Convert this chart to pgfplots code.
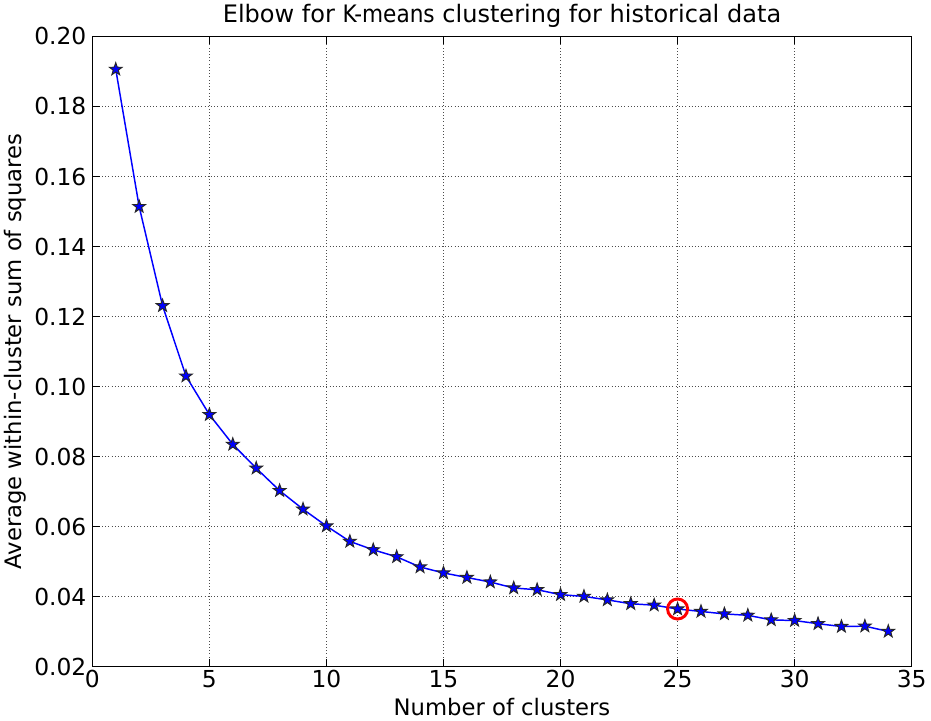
\documentclass[border=0pt]{standalone}
\usepackage{fontspec}
\setmainfont{DejaVu Sans}
\newfontfamily\cond{DejaVu Sans Condensed}
\usepackage{pgfplots}
\pgfplotsset{compat=1.18}
% filled five-pointed star like matplotlib's '*'
\pgfdeclareplotmark{fstar}{%
  \pgfpathmoveto{\pgfpointpolar{90}{\pgfplotmarksize}}%
  \pgfpathlineto{\pgfpointpolar{126}{0.4\pgfplotmarksize}}%
  \pgfpathlineto{\pgfpointpolar{162}{\pgfplotmarksize}}%
  \pgfpathlineto{\pgfpointpolar{198}{0.4\pgfplotmarksize}}%
  \pgfpathlineto{\pgfpointpolar{234}{\pgfplotmarksize}}%
  \pgfpathlineto{\pgfpointpolar{270}{0.4\pgfplotmarksize}}%
  \pgfpathlineto{\pgfpointpolar{306}{\pgfplotmarksize}}%
  \pgfpathlineto{\pgfpointpolar{342}{0.4\pgfplotmarksize}}%
  \pgfpathlineto{\pgfpointpolar{18}{\pgfplotmarksize}}%
  \pgfpathlineto{\pgfpointpolar{54}{0.4\pgfplotmarksize}}%
  \pgfpathclose
  \pgfusepathqfillstroke}
\begin{document}
\begin{tikzpicture}
\begin{axis}[
    width=613.5pt, height=472pt,
    scale only axis,
    xmin=0, xmax=35, ymin=0.02, ymax=0.20,
    xtick={0,5,...,35},
    ytick={0.02,0.04,...,0.20},
    yticklabel style={xshift=-1pt, /pgf/number format/.cd, fixed, fixed zerofill, precision=2},
    /pgf/number format/assume math mode=true,
    tick align=inside,
    tick style={black, line width=0.6pt},
    major tick length=6pt,
    grid=major,
    grid style={black!70, dotted, line width=0.7pt},
    axis line style={black, line width=0.9pt},
    every tick label/.append style={font=\fontsize{17.5}{20}\selectfont},
    xticklabel style={yshift=1pt},
    label style={font=\fontsize{17}{20}\selectfont},
    title style={font=\fontsize{18}{21}\selectfont, yshift=-3pt},
    title={Elbow for {\cond K-means} clustering for historical data},
    xlabel={Number of clusters},
    ylabel={Average within-cluster sum of squares},
    xlabel style={yshift=-1pt},
    ylabel style={yshift=-1pt},
]
\addplot[blue, line width=1.1pt, mark=fstar, mark size=5pt,
    mark options={line width=0.7pt, fill=blue, draw=black!85}] coordinates {
(1,0.1906) (2,0.1514) (3,0.1231) (4,0.1030) (5,0.0920) (6,0.0835) (7,0.0767)
(8,0.0703) (9,0.0650) (10,0.0602) (11,0.0558) (12,0.0534) (13,0.0514) (14,0.0485)
(15,0.0468) (16,0.0455) (17,0.0442) (18,0.0425) (19,0.0420) (20,0.0406) (21,0.0401)
(22,0.0391) (23,0.0380) (24,0.0376) (25,0.0365) (26,0.0358) (27,0.0351) (28,0.0347)
(29,0.0334) (30,0.0332) (31,0.0323) (32,0.0315) (33,0.0316) (34,0.0301)
};
\addplot[only marks, mark=o, mark size=7.5pt, red, mark options={line width=2.2pt}]
    coordinates {(25,0.0365)};
\end{axis}
\end{tikzpicture}
\end{document}
